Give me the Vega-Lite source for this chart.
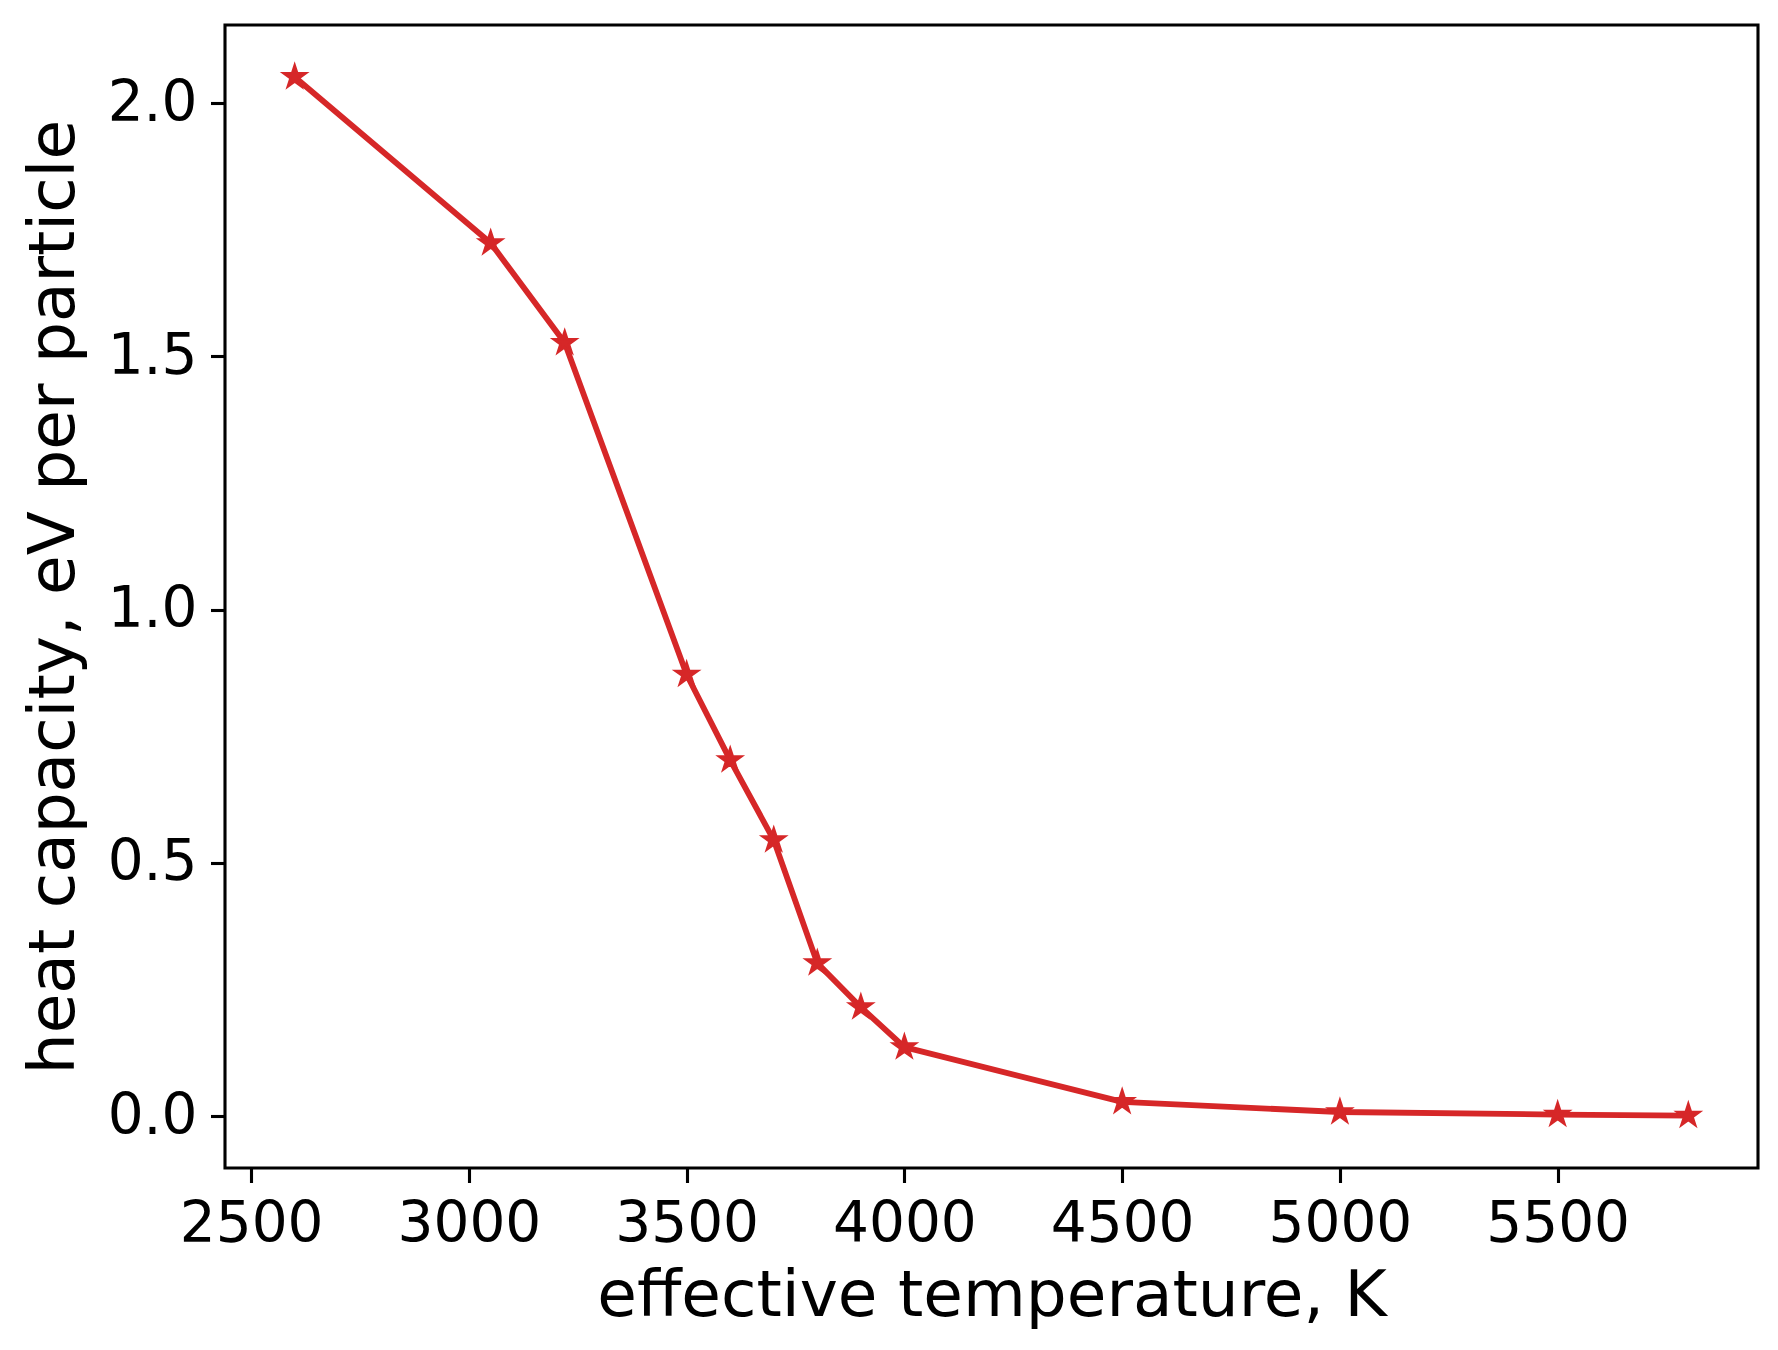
{
  "$schema": "https://vega.github.io/schema/vega-lite/v6.json",
  "width": 1533,
  "height": 1143,
  "autosize": {"type": "none"},
  "padding": {"left": 225, "top": 25, "right": 20, "bottom": 182},
  "background": "white",
  "config": {
    "font": "DejaVu Sans",
    "view": {"stroke": "black", "strokeWidth": 3.1},
    "axis": {
      "grid": false,
      "domain": false,
      "tickColor": "black",
      "tickWidth": 3.1,
      "tickSize": 14.5,
      "labelFont": "DejaVu Sans",
      "labelFontSize": 56.5,
      "labelColor": "black",
      "labelPadding": 13.5,
      "titleFont": "DejaVu Sans",
      "titleFontSize": 64.5,
      "titleFontWeight": "normal",
      "titleColor": "black"
    }
  },
  "data": {
    "values": [
      {"T": 2600, "C": 2.052},
      {"T": 3050, "C": 1.724},
      {"T": 3220, "C": 1.527},
      {"T": 3500, "C": 0.872},
      {"T": 3600, "C": 0.703},
      {"T": 3700, "C": 0.545},
      {"T": 3800, "C": 0.302},
      {"T": 3900, "C": 0.215},
      {"T": 4000, "C": 0.136},
      {"T": 4500, "C": 0.028},
      {"T": 5000, "C": 0.008},
      {"T": 5500, "C": 0.003},
      {"T": 5800, "C": 0.001}
    ]
  },
  "encoding": {
    "x": {
      "field": "T",
      "type": "quantitative",
      "scale": {"domain": [2440, 5960], "nice": false, "zero": false},
      "axis": {
        "title": "effective temperature, K",
        "values": [2500, 3000, 3500, 4000, 4500, 5000, 5500],
        "format": "d",
        "titlePadding": 12
      }
    },
    "y": {
      "field": "C",
      "type": "quantitative",
      "scale": {"domain": [-0.1026, 2.1546], "nice": false, "zero": false},
      "axis": {
        "title": "heat capacity, eV per particle",
        "values": [0, 0.5, 1, 1.5, 2],
        "format": ".1f",
        "titlePadding": 20
      }
    }
  },
  "layer": [
    {
      "mark": {"type": "line", "color": "#d62728", "strokeWidth": 5.8, "strokeJoin": "round"}
    },
    {
      "mark": {
        "type": "point",
        "shape": "M0,-1L0.2245,-0.309L0.951,-0.309L0.363,0.118L0.588,0.809L0,0.382L-0.588,0.809L-0.363,0.118L-0.951,-0.309L-0.2245,-0.309Z",
        "filled": true,
        "fill": "#d62728",
        "stroke": "#d62728",
        "strokeWidth": 2.5,
        "size": 540,
        "opacity": 1
      }
    }
  ]
}
